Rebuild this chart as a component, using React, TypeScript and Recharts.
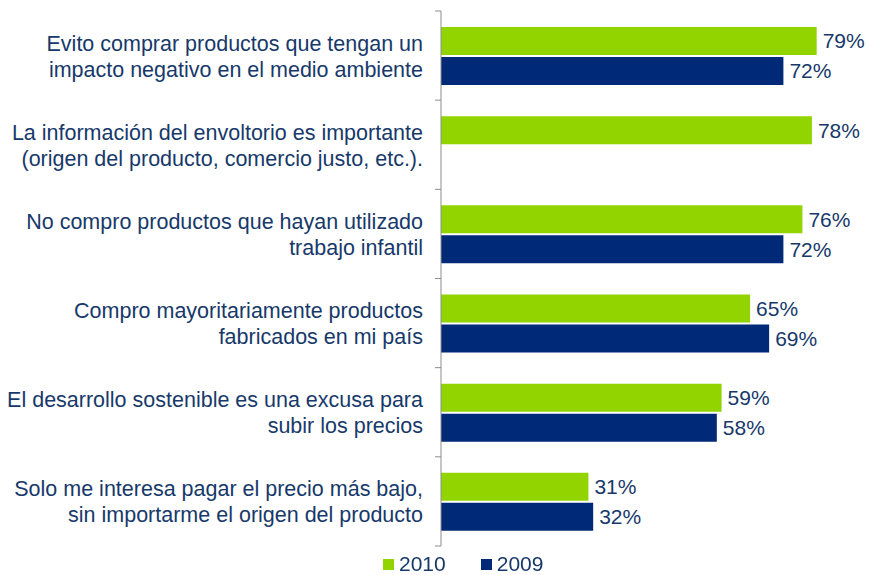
import { Bar, BarChart, LabelList, Legend, XAxis, YAxis } from "recharts";

const categories = [
  "Evito comprar productos que tengan un\nimpacto negativo en el medio ambiente",
  "La información del envoltorio es importante\n(origen del producto, comercio justo, etc.).",
  "No compro productos que hayan utilizado\ntrabajo infantil",
  "Compro mayoritariamente productos\nfabricados en mi país",
  "El desarrollo sostenible es una excusa para\nsubir los precios",
  "Solo me interesa pagar el precio más bajo,\nsin importarme el origen del producto",
];
const values2010 = [79, 78, 76, 65, 59, 31];
const values2009: (number | null)[] = [72, null, 72, 69, 58, 32];

const GREEN = "#92d400";
const NAVY = "#002a78";
const TEXT = "#17396a";
const AXIS = "#8c8c8c";
const FONT = "'Liberation Sans', Arial, sans-serif";
const FONT_SIZE = 21;

const TICK_SIZE = 6;
const TICK_MARGIN = 12;

const data = categories.map((name, i) => ({
  name,
  y2010: values2010[i],
  y2009: values2009[i],
}));

/** Two-line right-aligned category label plus a tick at the band boundary. */
function CategoryTick(props: any) {
  const { x, y, payload, index } = props;
  const lines = String(payload.value).split("\n");
  const edge = x + TICK_SIZE + TICK_MARGIN;
  const half = payload.offset ?? 0;
  return (
    <g>
      <line x1={edge - TICK_SIZE} x2={edge} y1={y - half} y2={y - half} stroke={AXIS} />
      {index === categories.length - 1 && (
        <line x1={edge - TICK_SIZE} x2={edge} y1={y + half} y2={y + half} stroke={AXIS} />
      )}
      <text x={x} y={y} textAnchor="end" fill={TEXT} fontSize={21.5} fontFamily={FONT}>
        {lines.map((l, i) => (
          <tspan key={i} x={x} dy={i === 0 ? -5 : 26}>
            {l}
          </tspan>
        ))}
      </text>
    </g>
  );
}

function LegendContent() {
  const items = [
    { label: "2010", color: GREEN },
    { label: "2009", color: NAVY },
  ];
  return (
    <div style={{ display: "flex", gap: 35, fontFamily: FONT, fontSize: FONT_SIZE, color: TEXT }}>
      {items.map((it) => (
        <div key={it.label} style={{ display: "flex", alignItems: "center", gap: 5 }}>
          <span style={{ width: 11, height: 11, background: it.color, display: "inline-block" }} />
          <span>{it.label}</span>
        </div>
      ))}
    </div>
  );
}

export default function App() {
  return (
    <div style={{ position: "fixed", left: 0, top: 0, background: "#fff" }}>
      <BarChart
        width={869}
        height={575}
        data={data}
        layout="vertical"
        margin={{ top: 11, right: 0, bottom: 29, left: 0 }}
        barSize={28}
        barGap={2}
      >
        <XAxis type="number" domain={[0, 90]} hide />
        <YAxis
          type="category"
          dataKey="name"
          width={441}
          tick={<CategoryTick />}
          tickLine={false}
          tickSize={TICK_SIZE}
          tickMargin={TICK_MARGIN}
          axisLine={{ stroke: AXIS }}
          interval={0}
        />
        <Legend
          layout="horizontal"
          align="center"
          verticalAlign="middle"
          content={<LegendContent />}
          wrapperStyle={{ position: "absolute", top: 552, left: 383, width: "auto" }}
        />
        <Bar dataKey="y2010" fill={GREEN} isAnimationActive={false}>
          <LabelList
            dataKey="y2010"
            position="right"
            offset={6}
            fill={TEXT}
            fontSize={FONT_SIZE}
            fontFamily={FONT}
            formatter={(v: any) => `${v}%`}
          />
        </Bar>
        <Bar dataKey="y2009" fill={NAVY} isAnimationActive={false}>
          <LabelList
            dataKey="y2009"
            position="right"
            offset={6}
            fill={TEXT}
            fontSize={FONT_SIZE}
            fontFamily={FONT}
            formatter={(v: any) => (v == null ? "" : `${v}%`)}
          />
        </Bar>
      </BarChart>
    </div>
  );
}
